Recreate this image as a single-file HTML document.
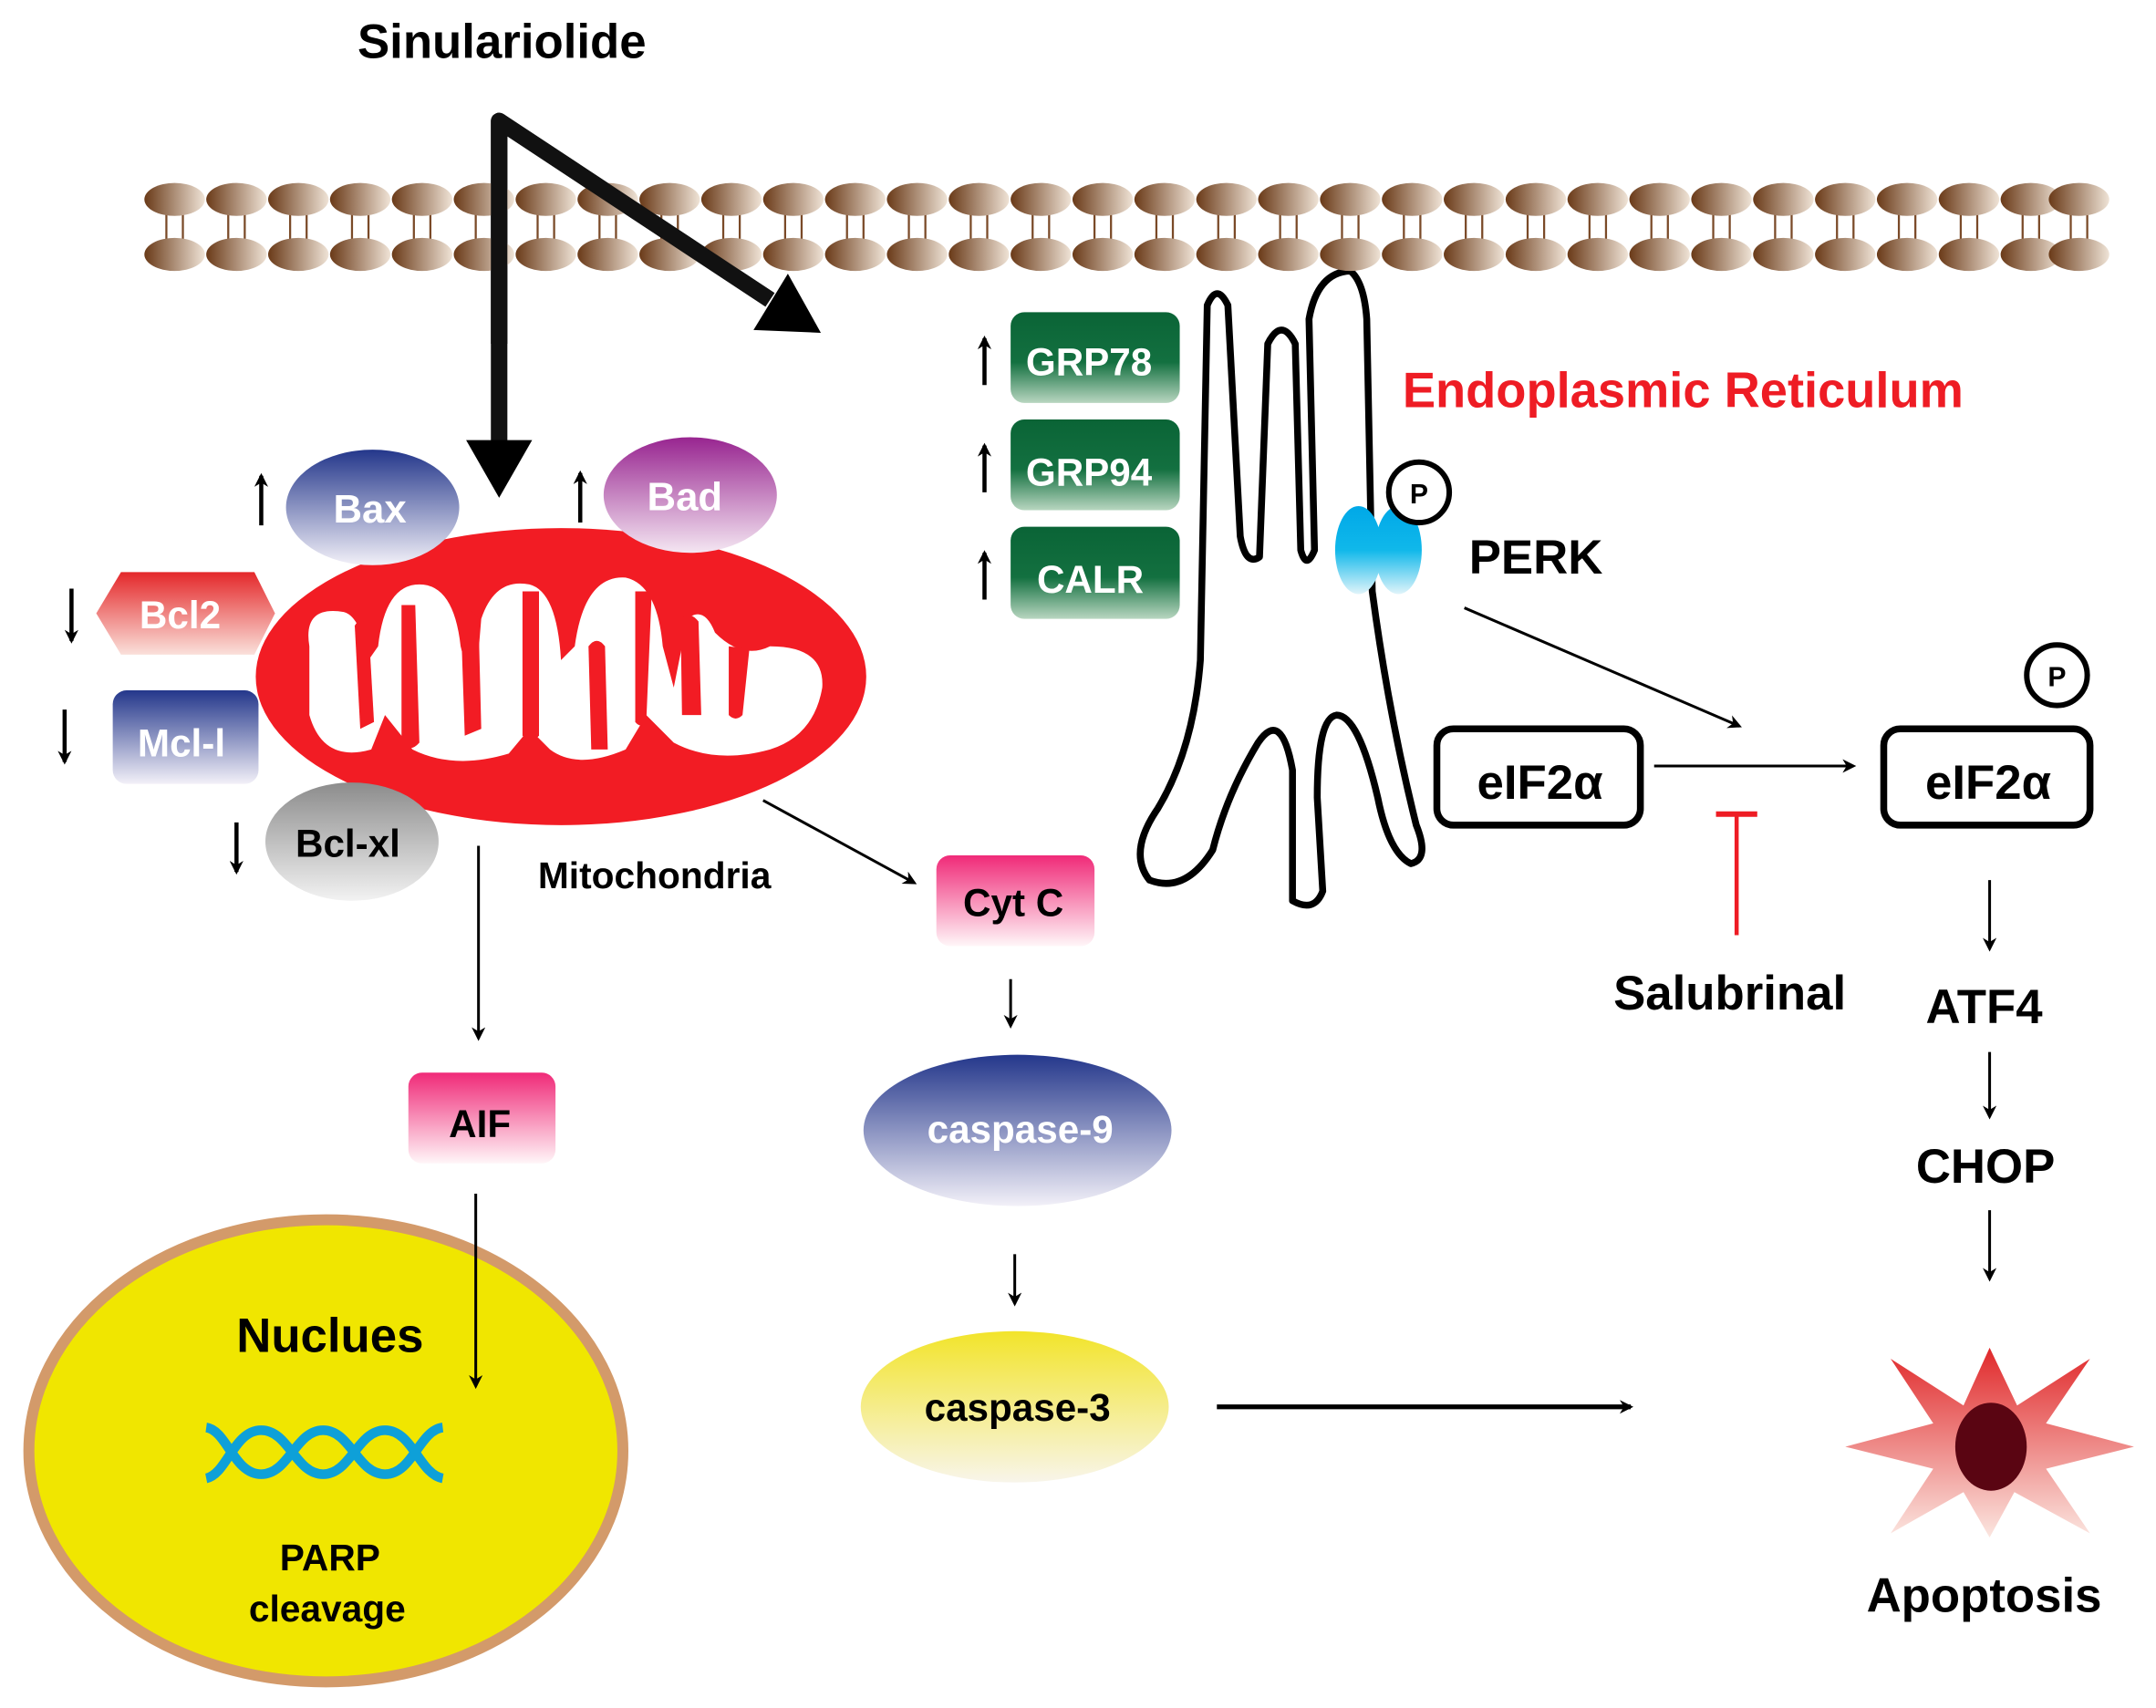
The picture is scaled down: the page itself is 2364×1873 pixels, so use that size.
<!DOCTYPE html>
<html><head><meta charset="utf-8"><style>html,body{margin:0;padding:0;background:#fff}svg{display:block}text{font-family:"Liberation Sans",sans-serif;font-weight:bold;text-anchor:middle}</style></head>
<body>
<svg width="2364" height="1873" viewBox="0 0 1568 1242" preserveAspectRatio="none" xmlns="http://www.w3.org/2000/svg">
<defs>
<linearGradient id="lip" x1="0" y1="0" x2="1" y2="0"><stop offset="0" stop-color="#6a3a18"/><stop offset="1" stop-color="#efe3d6"/></linearGradient>
<linearGradient id="blue" x1="0" y1="0" x2="0" y2="1"><stop offset="0" stop-color="#24378b"/><stop offset="1" stop-color="#f2f0f8"/></linearGradient>
<linearGradient id="purp" x1="0" y1="0" x2="0" y2="1"><stop offset="0" stop-color="#982590"/><stop offset="1" stop-color="#f4e6f2"/></linearGradient>
<linearGradient id="red" x1="0" y1="0" x2="0" y2="1"><stop offset="0" stop-color="#e4282a"/><stop offset="1" stop-color="#fae0da"/></linearGradient>
<linearGradient id="gray" x1="0" y1="0" x2="0" y2="1"><stop offset="0" stop-color="#8c8c8c"/><stop offset="1" stop-color="#f2f2f2"/></linearGradient>
<linearGradient id="pink" x1="0" y1="0" x2="0" y2="1"><stop offset="0" stop-color="#f02a78"/><stop offset="1" stop-color="#fff6f8"/></linearGradient>
<linearGradient id="yel" x1="0" y1="0" x2="0" y2="1"><stop offset="0" stop-color="#f2e42a"/><stop offset="1" stop-color="#f8f5ea"/></linearGradient>
<linearGradient id="grn" x1="0" y1="0" x2="0" y2="1"><stop offset="0" stop-color="#0a6436"/><stop offset="0.55" stop-color="#137040"/><stop offset="1" stop-color="#b8d6c0"/></linearGradient>
<linearGradient id="cyan" x1="0" y1="0" x2="0" y2="1"><stop offset="0" stop-color="#00a8e8"/><stop offset="0.5" stop-color="#10b8ea"/><stop offset="1" stop-color="#e0f4fa"/></linearGradient>
<linearGradient id="star" x1="0" y1="0" x2="0" y2="1"><stop offset="0" stop-color="#e0282a"/><stop offset="1" stop-color="#fbe6e0"/></linearGradient>
<marker id="ah" markerWidth="10" markerHeight="10" refX="8" refY="5" orient="auto" markerUnits="userSpaceOnUse"><path d="M0,0 L10,5 L0,10 L3,5 Z" fill="#000"/></marker>
<g id="head"><ellipse cx="0" cy="0" rx="22" ry="12" fill="url(#lip)"/></g>
</defs>

<!-- Sinulariolide -->
<text x="365" y="42" font-size="35">Sinulariolide</text>

<!-- Mitochondria -->
<ellipse cx="408" cy="492" rx="222" ry="108" fill="#f21c24"/>
<path d="M225 470 Q220 440 250 445 Q262 448 268 480 L275 470 Q280 425 305 425 Q330 425 335 470 L345 510 L350 450 Q360 420 385 425 Q405 430 408 480 L418 470 Q425 418 455 420 Q478 425 482 470 L490 500 L500 450 Q512 440 520 460 Q540 480 560 470 Q600 470 598 500 Q592 535 560 545 Q520 556 490 540 L470 520 L455 545 Q420 560 400 545 L385 530 L370 548 Q330 560 300 545 L280 520 L270 545 Q235 555 225 520 Z" fill="#fff"/>
<g fill="#f21c24">
<path d="M258 455 Q262 448 268 455 L272 525 L262 530 Z"/>
<path d="M335 445 Q342 440 348 450 L350 530 L338 535 Z"/>
<path d="M428 470 Q434 462 440 470 L442 545 L430 545 Z"/>
<path d="M495 450 Q502 444 508 452 L510 520 L496 520 Z"/>
<path d="M292 440 L302 440 L305 540 Q298 548 292 540 Z"/>
<path d="M380 430 L392 430 L392 535 Q386 542 380 535 Z"/>
<path d="M462 430 L474 430 L470 525 Q466 530 462 525 Z"/>
<path d="M530 470 L545 472 L540 520 Q535 525 530 520 Z"/>
</g>

<ellipse cx="271" cy="369" rx="63" ry="42" fill="url(#blue)"/>
<text x="269" y="380" font-size="29" fill="#fff">Bax</text>
<ellipse cx="502" cy="360" rx="63" ry="42" fill="url(#purp)"/>
<text x="498" y="371" font-size="29" fill="#fff">Bad</text>
<polygon points="70,446 88,416 185,416 200,446 185,476 88,476" fill="url(#red)"/>
<text x="131" y="457" font-size="28" fill="#fff">Bcl2</text>
<rect x="82" y="502" width="106" height="68" rx="10" fill="url(#blue)"/>
<text x="132" y="550" font-size="28" fill="#fff">Mcl-l</text>
<ellipse cx="256" cy="612" rx="63" ry="43" fill="url(#gray)"/>
<text x="253" y="623" font-size="28" fill="#000">Bcl-xl</text>

<g stroke="#000" stroke-width="3" fill="none" marker-end="url(#ah)">
<line x1="190" y1="382" x2="190" y2="346"/>
<line x1="422" y1="380" x2="422" y2="344"/>
<line x1="52" y1="428" x2="52" y2="466"/>
<line x1="47" y1="516" x2="47" y2="554"/>
<line x1="172" y1="598" x2="172" y2="634"/>
<line x1="716" y1="280" x2="716" y2="246"/>
<line x1="716" y1="358" x2="716" y2="324"/>
<line x1="716" y1="436" x2="716" y2="402"/>
</g>

<!-- Nucleus -->
<ellipse cx="237" cy="1055" rx="216" ry="168" fill="#f0e600" stroke="#d39a6a" stroke-width="8"/>
<text x="240" y="983" font-size="35">Nuclues</text>
<g fill="none" stroke="#0ea0d8" stroke-width="7">
<path d="M150 1038 C165 1040 170 1072 190 1072 C210 1072 215 1040 235 1040 C255 1040 260 1072 280 1072 C300 1072 305 1040 322 1038"/>
<path d="M150 1075 C165 1072 170 1040 190 1040 C210 1040 215 1072 235 1072 C255 1072 260 1040 280 1040 C300 1040 305 1072 322 1075"/>
</g>
<text x="240" y="1142" font-size="27">PARP</text>
<text x="238" y="1179" font-size="27">cleavage</text>

<g stroke="#000" stroke-width="2" fill="none" marker-end="url(#ah)">
<line x1="348" y1="615" x2="348" y2="755"/>
<line x1="555" y1="582" x2="665" y2="642"/>
<line x1="735" y1="712" x2="735" y2="746"/>
<line x1="738" y1="912" x2="738" y2="948"/>
<line x1="346" y1="868" x2="346" y2="1008"/>
<line x1="1065" y1="442" x2="1265" y2="528"/>
<line x1="1203" y1="557" x2="1348" y2="557"/>
<line x1="1447" y1="640" x2="1447" y2="690"/>
<line x1="1447" y1="765" x2="1447" y2="812"/>
<line x1="1447" y1="880" x2="1447" y2="930"/>
</g>
<line x1="885" y1="1023" x2="1186" y2="1023" stroke="#000" stroke-width="3.5" marker-end="url(#ah)"/>

<text x="476" y="646" font-size="27">Mitochondria</text>

<!-- Thick arrow -->
<polyline points="363,322 363,88 560,218" fill="none" stroke="#111" stroke-width="12" stroke-linejoin="round"/>
<polygon points="339,320 387,320 363,362" fill="#000"/>

<rect x="681" y="622" width="115" height="66" rx="10" fill="url(#pink)"/>
<text x="737" y="666" font-size="28">Cyt C</text>
<rect x="297" y="780" width="107" height="66" rx="10" fill="url(#pink)"/>
<text x="349" y="827" font-size="28">AIF</text>
<ellipse cx="740" cy="822" rx="112" ry="55" fill="url(#blue)"/>
<text x="742" y="831" font-size="28" fill="#fff">caspase-9</text>
<ellipse cx="738" cy="1023" rx="112" ry="55" fill="url(#yel)"/>
<text x="740" y="1033" font-size="28">caspase-3</text>

<!-- GRP boxes -->
<rect x="735" y="227" width="123" height="66" rx="10" fill="url(#grn)"/>
<rect x="735" y="305" width="123" height="66" rx="10" fill="url(#grn)"/>
<rect x="735" y="383" width="123" height="67" rx="10" fill="url(#grn)"/>
<text x="792" y="273" font-size="28" fill="#fff">GRP78</text>
<text x="792" y="353" font-size="28" fill="#fff">GRP94</text>
<text x="793" y="431" font-size="28" fill="#fff">CALR</text>

<!-- ER -->
<path d="M878 222 Q885 205 893 222 L902 390 Q906 412 916 405 L922 250 Q932 230 942 250 L946 400 Q950 415 956 400 L952 232 Q958 198 982 197 Q992 205 994 232 L998 430 Q1010 520 1030 600 Q1040 625 1026 628 Q1010 620 1002 580 Q988 520 972 520 Q958 522 958 580 L962 648 Q956 664 940 655 L940 560 Q932 515 915 540 Q892 578 882 618 Q862 650 836 640 Q820 620 842 588 Q868 545 873 480 Z" fill="none" stroke="#000" stroke-width="5" stroke-linejoin="round"/>
<ellipse cx="988" cy="400" rx="17" ry="32" fill="url(#cyan)"/>
<ellipse cx="1017" cy="400" rx="17" ry="32" fill="url(#cyan)"/>
<circle cx="1032" cy="358" r="22" fill="#fff" stroke="#000" stroke-width="4"/>
<text x="1032" y="366" font-size="20">P</text>
<text x="1117" y="417" font-size="35">PERK</text>
<text x="1224" y="296" font-size="36" fill="#ee1c24">Endoplasmic Reticulum</text>

<rect x="1045" y="530" width="148" height="70" rx="12" fill="#fff" stroke="#000" stroke-width="5"/>
<text x="1120" y="581" font-size="35">eIF2α</text>
<rect x="1370" y="530" width="150" height="70" rx="12" fill="#fff" stroke="#000" stroke-width="5"/>
<text x="1446" y="581" font-size="35">eIF2α</text>
<circle cx="1496" cy="491" r="22" fill="#fff" stroke="#000" stroke-width="4"/>
<text x="1496" y="499" font-size="20">P</text>

<line x1="1263" y1="592" x2="1263" y2="680" stroke="#ee1c24" stroke-width="3"/>
<line x1="1248" y1="592" x2="1278" y2="592" stroke="#ee1c24" stroke-width="4"/>
<text x="1258" y="734" font-size="35">Salubrinal</text>
<text x="1443" y="744" font-size="35">ATF4</text>
<text x="1444" y="860" font-size="35">CHOP</text>
<text x="1443" y="1172" font-size="35">Apoptosis</text>

<polygon points="1447,980 1467,1022 1520,988 1488,1035 1552,1052 1488,1068 1520,1115 1465,1085 1447,1118 1428,1085 1375,1115 1406,1068 1342,1052 1406,1035 1375,988 1428,1022" fill="url(#star)"/>
<ellipse cx="1448" cy="1052" rx="26" ry="32" fill="#5a0512"/>

<!-- membrane row -->
<g stroke="#7a4a28" stroke-width="1.5">
<path d="M121 152v26M133 152v26M166 152v26M178 152v26M211 152v26M223 152v26M256 152v26M268 152v26M301 152v26M313 152v26M346 152v26M358 152v26M391 152v26M403 152v26M436 152v26M448 152v26M481 152v26M493 152v26M526 152v26M538 152v26M571 152v26M583 152v26M616 152v26M628 152v26M661 152v26M673 152v26M706 152v26M718 152v26M751 152v26M763 152v26M796 152v26M808 152v26M841 152v26M853 152v26M886 152v26M898 152v26M931 152v26M943 152v26M976 152v26M988 152v26M1021 152v26M1033 152v26M1066 152v26M1078 152v26M1111 152v26M1123 152v26M1156 152v26M1168 152v26M1201 152v26M1213 152v26M1246 152v26M1258 152v26M1291 152v26M1303 152v26M1336 152v26M1348 152v26M1381 152v26M1393 152v26M1426 152v26M1438 152v26M1471 152v26M1483 152v26M1506 152v26M1518 152v26"/>
</g>
<g>
<use href="#head" x="127" y="145"/><use href="#head" x="127" y="185"/>
<use href="#head" x="172" y="145"/><use href="#head" x="172" y="185"/>
<use href="#head" x="217" y="145"/><use href="#head" x="217" y="185"/>
<use href="#head" x="262" y="145"/><use href="#head" x="262" y="185"/>
<use href="#head" x="307" y="145"/><use href="#head" x="307" y="185"/>
<use href="#head" x="352" y="145"/><use href="#head" x="352" y="185"/>
<use href="#head" x="397" y="145"/><use href="#head" x="397" y="185"/>
<use href="#head" x="442" y="145"/><use href="#head" x="442" y="185"/>
<use href="#head" x="487" y="145"/><use href="#head" x="487" y="185"/>
<use href="#head" x="532" y="145"/><use href="#head" x="532" y="185"/>
<use href="#head" x="577" y="145"/><use href="#head" x="577" y="185"/>
<use href="#head" x="622" y="145"/><use href="#head" x="622" y="185"/>
<use href="#head" x="667" y="145"/><use href="#head" x="667" y="185"/>
<use href="#head" x="712" y="145"/><use href="#head" x="712" y="185"/>
<use href="#head" x="757" y="145"/><use href="#head" x="757" y="185"/>
<use href="#head" x="802" y="145"/><use href="#head" x="802" y="185"/>
<use href="#head" x="847" y="145"/><use href="#head" x="847" y="185"/>
<use href="#head" x="892" y="145"/><use href="#head" x="892" y="185"/>
<use href="#head" x="937" y="145"/><use href="#head" x="937" y="185"/>
<use href="#head" x="982" y="145"/><use href="#head" x="982" y="185"/>
<use href="#head" x="1027" y="145"/><use href="#head" x="1027" y="185"/>
<use href="#head" x="1072" y="145"/><use href="#head" x="1072" y="185"/>
<use href="#head" x="1117" y="145"/><use href="#head" x="1117" y="185"/>
<use href="#head" x="1162" y="145"/><use href="#head" x="1162" y="185"/>
<use href="#head" x="1207" y="145"/><use href="#head" x="1207" y="185"/>
<use href="#head" x="1252" y="145"/><use href="#head" x="1252" y="185"/>
<use href="#head" x="1297" y="145"/><use href="#head" x="1297" y="185"/>
<use href="#head" x="1342" y="145"/><use href="#head" x="1342" y="185"/>
<use href="#head" x="1387" y="145"/><use href="#head" x="1387" y="185"/>
<use href="#head" x="1432" y="145"/><use href="#head" x="1432" y="185"/>
<use href="#head" x="1477" y="145"/><use href="#head" x="1477" y="185"/>
<use href="#head" x="1512" y="145"/><use href="#head" x="1512" y="185"/>
</g>
<!-- redraw thick arrow over membrane -->
<polyline points="363,250 363,88 560,218" fill="none" stroke="#111" stroke-width="12" stroke-linejoin="round"/>
<polygon points="548,240 597,242 573,199" fill="#000"/>
</svg>
</body></html>
